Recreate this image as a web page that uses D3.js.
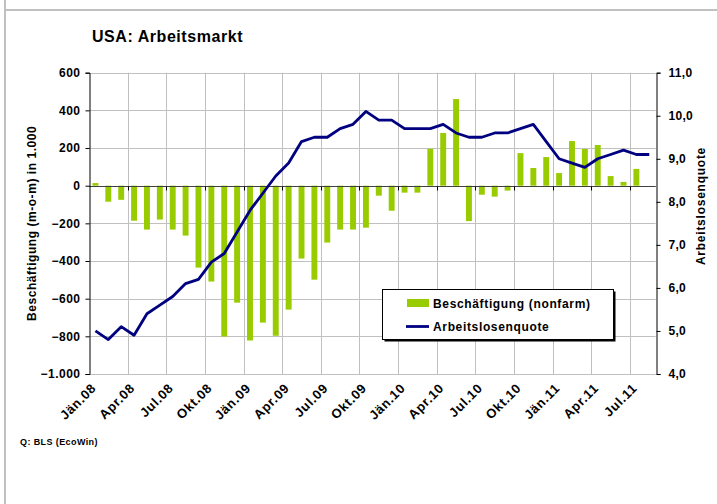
<!DOCTYPE html>
<html>
<head>
<meta charset="utf-8">
<script src="https://cdn.jsdelivr.net/npm/d3@7"></script>
<style>
  html, body { margin: 0; padding: 0; background: #fff; }
  svg { display: block; }
  text { font-family: "Liberation Sans", Arial, sans-serif; font-weight: bold; fill: #000; }
</style>
</head>
<body>
<svg id="chart" width="717" height="504"></svg>
<script>
// ---------- DATA ----------
const months = ["Jän","Feb","Mär","Apr","Mai","Jun","Jul","Aug","Sep","Okt","Nov","Dez"];
const categories = [];
for (const yy of ["08","09","10","11"]) {
  for (const m of months) categories.push(m + "." + yy);
}
categories.length = 44; // Jän.08 .. Aug.11

const employment = [
  14, -85, -75, -186, -233, -180, -233, -265, -435, -509, -801, -621,
  -822, -727, -797, -658, -387, -499, -302, -233, -233, -223, -53, -133,
  -37, -37, 196, 280, 460, -188, -48, -58, -26, 173, 94, 152,
  67, 237, 195, 216, 51, 20, 89, null
];

const unemployment = [
  5.0, 4.8, 5.1, 4.9, 5.4, 5.6, 5.8, 6.1, 6.2, 6.6, 6.8, 7.3,
  7.8, 8.2, 8.6, 8.9, 9.4, 9.5, 9.5, 9.7, 9.8, 10.1, 9.9, 9.9,
  9.7, 9.7, 9.7, 9.8, 9.6, 9.5, 9.5, 9.6, 9.6, 9.7, 9.8, 9.4,
  9.0, 8.9, 8.8, 9.0, 9.1, 9.2, 9.1, 9.1
];

const leftTicks = [600, 400, 200, 0, -200, -400, -600, -800, -1000];
const rightTicks = [11, 10, 9, 8, 7, 6, 5, 4];
const xLabelCats = categories.filter((d, i) => i % 3 === 0 && i < 43);

const titleText = "USA: Arbeitsmarkt";
const leftTitle = "Beschäftigung (m-o-m) in 1.000";
const rightTitle = "Arbeitslosenquote";
const seriesNames = ["Beschäftigung (nonfarm)", "Arbeitslosenquote"];
const sourceText = "Q: BLS (EcoWin)";

// ---------- LAYOUT ----------
const L = 89, R = 655.7, T = 72.7, B = 374;
const barColor = "#99cc00";
const lineColor = "#000080";
const gridColor = "#c0c0c0";

const svg = d3.select("#chart");

// frame
svg.append("line").attr("x1", 5).attr("x2", 5).attr("y1", 0).attr("y2", 504)
  .attr("stroke", gridColor).attr("stroke-width", 2);
svg.append("line").attr("x1", 5).attr("x2", 717).attr("y1", 10).attr("y2", 10)
  .attr("stroke", gridColor).attr("stroke-width", 2);

const x = d3.scaleBand().domain(categories).range([L, R]).padding(0);
const yL = d3.scaleLinear().domain([-1000, 600]).range([B, T]);
const yR = d3.scaleLinear().domain([4, 11]).range([B, T]);

// horizontal gridlines
svg.append("g").selectAll("line").data(leftTicks).join("line")
  .attr("x1", L).attr("x2", R)
  .attr("y1", d => Math.round(yL(d)) + 0.5).attr("y2", d => Math.round(yL(d)) + 0.5)
  .attr("stroke", gridColor).attr("stroke-width", 1);

// vertical gridlines at every 3rd category boundary
const vIdx = d3.range(3, 44, 3);
svg.append("g").selectAll("line").data(vIdx).join("line")
  .attr("x1", i => Math.round(x(categories[i])) + 0.5)
  .attr("x2", i => Math.round(x(categories[i])) + 0.5)
  .attr("y1", T).attr("y2", B)
  .attr("stroke", gridColor).attr("stroke-width", 1);

// bars
const bw = x.bandwidth() * 0.46;
svg.append("g").selectAll("rect")
  .data(categories.map((c, i) => ({c, v: employment[i]})).filter(d => d.v !== null))
  .join("rect")
  .attr("x", d => x(d.c) + (x.bandwidth() - bw) / 2)
  .attr("width", bw)
  .attr("y", d => yL(Math.max(0, d.v)))
  .attr("height", d => Math.abs(yL(d.v) - yL(0)))
  .attr("fill", barColor);

// zero (category) axis
const y0 = Math.round(yL(0)) + 0.5;
svg.append("line").attr("x1", L).attr("x2", R).attr("y1", y0).attr("y2", y0)
  .attr("stroke", "#404040").attr("stroke-width", 1);
svg.append("g").selectAll("line").data(vIdx).join("line")
  .attr("x1", i => Math.round(x(categories[i])) + 0.5)
  .attr("x2", i => Math.round(x(categories[i])) + 0.5)
  .attr("y1", y0).attr("y2", y0 + 4)
  .attr("stroke", "#000").attr("stroke-width", 1);

// unemployment line
const line = d3.line()
  .x((d, i) => x(categories[i]) + x.bandwidth() / 2)
  .y(d => yR(d));
svg.append("path").datum(unemployment)
  .attr("d", line)
  .attr("fill", "none").attr("stroke", lineColor)
  .attr("stroke-width", 2.8).attr("stroke-linejoin", "round");

// left axis
const leftAxis = d3.axisLeft(yL).tickValues(leftTicks).tickSize(4).tickPadding(5)
  .tickFormat(d => d3.format(",")(d).replace(/,/g, "."));
const gL = svg.append("g").attr("transform", `translate(${Math.round(L) + 0.5},0)`).call(leftAxis);
gL.select(".domain").attr("stroke", "#000");
gL.selectAll(".tick line").attr("stroke", "#000");
gL.selectAll("text").style("font-size", "12px").style("font-family", "Liberation Sans, Arial, sans-serif")
  .style("font-weight", "bold").style("letter-spacing", "0.5px").attr("fill", "#000");

// right axis
const rightAxis = d3.axisRight(yR).tickValues(rightTicks).tickSize(4).tickPadding(8)
  .tickFormat(d => d3.format(".1f")(d).replace(".", ","));
const gR = svg.append("g").attr("transform", `translate(${Math.round(R) + 0.5},0)`).call(rightAxis);
gR.select(".domain").attr("stroke", "#000");
gR.selectAll(".tick line").attr("stroke", "#000");
gR.selectAll("text").style("font-size", "12px").style("font-family", "Liberation Sans, Arial, sans-serif")
  .style("font-weight", "bold").style("letter-spacing", "0.3px").attr("fill", "#000");

// x labels
svg.append("g").selectAll("text").data(xLabelCats).join("text")
  .attr("transform", d => `translate(${x(d) + x.bandwidth() / 2 + 1.5},${B + 15}) rotate(-45)`)
  .attr("text-anchor", "end")
  .style("font-size", "13px")
  .style("letter-spacing", "0.7px")
  .text(d => d);

// title
svg.append("text").attr("x", 92).attr("y", 42).style("font-size", "16px")
  .style("letter-spacing", "0.55px").text(titleText);

// axis titles
svg.append("text").attr("transform", `translate(36,${(T + B) / 2}) rotate(-90)`)
  .attr("text-anchor", "middle").style("font-size", "12px").style("letter-spacing", "0.55px").text(leftTitle);
svg.append("text").attr("transform", `translate(705,206) rotate(-90)`)
  .attr("text-anchor", "middle").style("font-size", "12px").style("letter-spacing", "0.75px").text(rightTitle);

// legend
const lg = svg.append("g");
lg.append("rect").attr("x", 384.5).attr("y", 291.5).attr("width", 231).attr("height", 50).attr("fill", "#000");
lg.append("rect").attr("x", 382.5).attr("y", 289.5).attr("width", 231).attr("height", 50)
  .attr("fill", "#fff").attr("stroke", "#000").attr("stroke-width", 1);
lg.append("rect").attr("x", 407).attr("y", 299).attr("width", 22).attr("height", 8).attr("fill", barColor);
lg.append("line").attr("x1", 406).attr("x2", 429).attr("y1", 326.5).attr("y2", 326.5)
  .attr("stroke", lineColor).attr("stroke-width", 2.8);
lg.append("text").attr("x", 433).attr("y", 307.5).style("font-size", "12px").style("letter-spacing", "0.65px").text(seriesNames[0]);
lg.append("text").attr("x", 433).attr("y", 331).style("font-size", "12px").style("letter-spacing", "0.65px").text(seriesNames[1]);

// source
svg.append("text").attr("x", 20).attr("y", 445).style("font-size", "9px").style("letter-spacing", "0.4px").text(sourceText);
</script>
</body>
</html>
